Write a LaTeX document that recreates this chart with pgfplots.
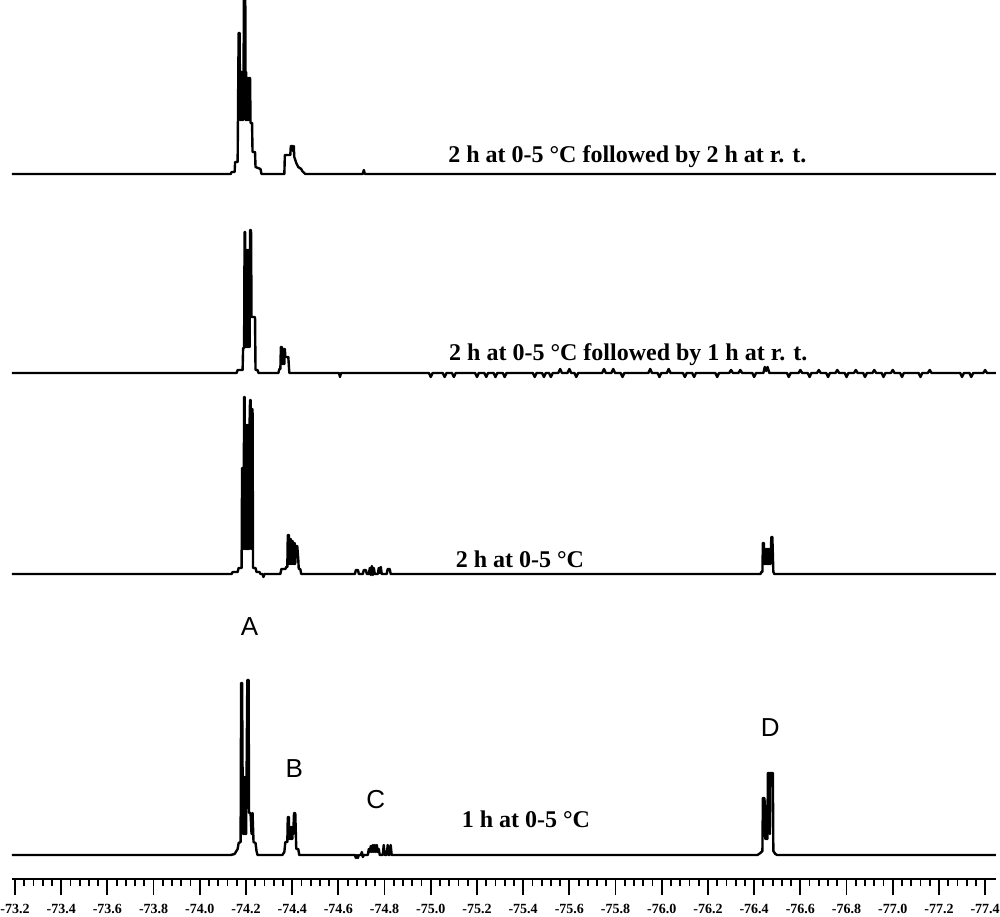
\documentclass[border=0pt]{standalone}
\usepackage{fontspec}
\setmainfont{Liberation Serif}
\newfontfamily\arialfont{Liberation Sans}
\usepackage{pgfplots}
\pgfplotsset{compat=1.18}
\usetikzlibrary{calc}

\begin{document}
\begin{tikzpicture}
\begin{axis}[
  name=ax,
  scale only axis,
  width=492pt, height=439.5pt,
  x dir=reverse,
  xmin=-77.447, xmax=-73.187,
  ymin=0, ymax=879,
  axis x line*=bottom,
  axis y line=none,
  axis line style={line width=1pt,-},
  xtick={-73.2,-73.4,-73.6,-73.8,-74.0,-74.2,-74.4,-74.6,-74.8,-75.0,-75.2,-75.4,-75.6,-75.8,-76.0,-76.2,-76.4,-76.6,-76.8,-77.0,-77.2,-77.4},
  minor x tick num=4,
  tick align=outside,
  major tick length=8pt,
  minor tick length=3.5pt,
  every tick/.style={black, line width=0.9pt},
  xticklabel style={font=\fontsize{7}{8}\selectfont\bfseries, inner sep=0pt, anchor=base},
  xticklabel shift=9.25pt,
  /pgf/number format/.cd, fixed, fixed zerofill, precision=1, assume math mode=true,
]
% 1 h at 0-5 C (bottom)
\addplot[black, line width=1.2pt, line join=round, sharp plot] coordinates {
(-73.187,24) (-74.1337,24) (-74.1509,25) (-74.1639,30) (-74.1682,36) (-74.1768,37)
(-74.1790,196) (-74.1832,196) (-74.1854,102) (-74.18755,45) (-74.1897,102) (-74.19185,45)
(-74.1940,102) (-74.19615,45) (-74.1983,102) (-74.20045,45) (-74.2026,102)
(-74.2058,199) (-74.2112,199) (-74.2133,66) (-74.2198,66) (-74.2241,45)
(-74.2284,66) (-74.2327,37) (-74.2413,36) (-74.2456,28) (-74.2499,24)
(-74.3575,24) (-74.3661,27) (-74.3704,37) (-74.3790,37) (-74.3811,62) (-74.3854,62)
(-74.3876,40) (-74.38975,52) (-74.3919,40) (-74.39405,52) (-74.3962,40) (-74.39835,52)
(-74.4005,40) (-74.40265,52) (-74.4048,45) (-74.4080,66)
(-74.4134,66) (-74.4177,30) (-74.4263,30) (-74.4306,24)
(-74.6716,24) (-74.6759,21) (-74.6802,24) (-74.6845,21) (-74.6888,24) (-74.6974,24)
(-74.7017,27) (-74.7060,22) (-74.7103,24) (-74.7275,24) (-74.7318,30) (-74.7361,27)
(-74.7404,33) (-74.7448,27) (-74.7491,34) (-74.7534,27) (-74.7577,34) (-74.7620,27)
(-74.7663,34) (-74.7706,27) (-74.7749,30) (-74.7792,24) (-74.7921,24) (-74.7964,34)
(-74.8007,24) (-74.8093,24) (-74.8136,34) (-74.8179,24) (-74.8222,24) (-74.8265,34)
(-74.8308,24)
(-76.4143,24) (-76.4272,26) (-76.4358,28) (-76.4379,81) (-76.4444,81) (-76.4466,72)
(-76.44875,40) (-76.4509,72) (-76.45305,40) (-76.4552,72) (-76.45735,40) (-76.4595,106)
(-76.4659,106) (-76.46805,45) (-76.4702,106) (-76.4810,106) (-76.4831,28) (-76.4917,25)
(-76.5003,24) (-77.447,24)
};
% 2 h at 0-5 C
\addplot[black, line width=1.2pt, line join=round, sharp plot] coordinates {
(-73.187,305) (-74.1380,305) (-74.1423,307) (-74.1639,307) (-74.1682,311) (-74.1811,311)
(-74.1832,411) (-74.18535,330) (-74.1875,411) (-74.18965,330) (-74.1919,482) (-74.1940,482)
(-74.19615,330) (-74.1983,454) (-74.20045,330) (-74.2026,454) (-74.20475,330) (-74.2069,454)
(-74.20905,330) (-74.2112,454) (-74.21335,330) (-74.2155,454) (-74.2176,479) (-74.2198,479)
(-74.22195,330) (-74.2241,470) (-74.22625,330) (-74.2284,470) (-74.2306,311)
(-74.2413,311) (-74.2456,307)
(-74.2585,307) (-74.2628,305) (-74.2714,305) (-74.2757,302) (-74.2800,305)
(-74.3489,305) (-74.3532,310) (-74.3704,310) (-74.3747,312) (-74.3790,312) (-74.3811,344)
(-74.3854,344) (-74.38755,315) (-74.3897,340) (-74.39185,315) (-74.3940,340) (-74.39615,315)
(-74.3983,338) (-74.40045,315) (-74.4026,338) (-74.40475,315) (-74.4069,336) (-74.40905,315)
(-74.4112,336) (-74.41335,315) (-74.4155,333) (-74.4220,333) (-74.4263,320) (-74.4285,310)
(-74.4349,310) (-74.4392,305)
(-74.6716,305) (-74.6759,309) (-74.6845,309) (-74.6888,305)
(-74.7060,305) (-74.7103,309) (-74.7189,309) (-74.7232,305)
(-74.7318,305) (-74.7361,311) (-74.7404,304) (-74.7448,313) (-74.7491,304) (-74.7534,311) (-74.7577,305)
(-74.7706,305) (-74.7749,311) (-74.7792,306) (-74.7835,312) (-74.7878,305)
(-74.8093,305) (-74.8136,310) (-74.8222,310) (-74.8265,305)
(-76.4272,305) (-76.4315,307) (-76.4358,307) (-76.4379,336) (-76.4422,336) (-76.44435,315)
(-76.4466,330) (-76.44875,315) (-76.4509,330) (-76.45305,315) (-76.4552,330) (-76.45735,315)
(-76.4595,330) (-76.46165,315) (-76.4638,330) (-76.46595,315) (-76.4681,330) (-76.47025,315)
(-76.4745,342) (-76.4788,342) (-76.4831,307) (-76.4874,305) (-77.447,305)
};
% 2 h at 0-5 C followed by 1 h at r.t.
\addplot[black, line width=1.2pt, line join=round, sharp plot] coordinates {
(-73.187,506) (-74.1595,506) (-74.1639,509) (-74.1854,509) (-74.1876,531) (-74.1919,531)
(-74.1940,647) (-74.1962,647) (-74.1983,532) (-74.20045,629) (-74.2026,532) (-74.20475,629)
(-74.2069,532) (-74.20905,629) (-74.2112,532) (-74.21335,629) (-74.2155,532) (-74.21765,649)
(-74.2219,649) (-74.2241,562) (-74.2392,562) (-74.2413,509) (-74.2499,509) (-74.2542,506)
(-74.3403,506) (-74.3446,510) (-74.3489,510) (-74.3511,532) (-74.3554,532) (-74.35755,515)
(-74.3597,530) (-74.36185,515) (-74.3640,530) (-74.36615,515) (-74.3683,530) (-74.3704,522)
(-74.3833,522) (-74.3876,506)
(-74.6028,506) (-74.6071,502) (-74.6114,506)
(-74.992,506) (-75.000,502) (-75.008,506)
(-75.052,506) (-75.060,502) (-75.068,506)
(-75.092,506) (-75.100,502) (-75.108,506)
(-75.192,506) (-75.200,502) (-75.208,506)
(-75.232,506) (-75.240,502) (-75.248,506)
(-75.272,506) (-75.280,502) (-75.288,506)
(-75.312,506) (-75.320,502) (-75.328,506)
(-75.442,506) (-75.450,502) (-75.458,506)
(-75.482,506) (-75.490,502) (-75.498,506)
(-75.512,506) (-75.520,502) (-75.528,506)
(-75.552,506) (-75.560,510) (-75.568,506)
(-75.592,506) (-75.600,510) (-75.608,506)
(-75.622,506) (-75.630,502) (-75.638,506)
(-75.742,506) (-75.750,510) (-75.758,506)
(-75.782,506) (-75.790,510) (-75.798,506)
(-75.822,506) (-75.830,502) (-75.838,506)
(-75.942,506) (-75.950,510) (-75.958,506)
(-75.982,506) (-75.990,502) (-75.998,506)
(-76.022,506) (-76.030,510) (-76.038,506)
(-76.092,506) (-76.100,502) (-76.108,506)
(-76.132,506) (-76.140,502) (-76.148,506)
(-76.232,506) (-76.240,502) (-76.248,506)
(-76.292,506) (-76.300,509) (-76.308,506)
(-76.332,506) (-76.340,509) (-76.348,506)
(-76.392,506) (-76.400,502) (-76.408,506)
(-76.440,506) (-76.446,512) (-76.452,508) (-76.458,512) (-76.466,506)
(-76.542,506) (-76.550,502) (-76.558,506)
(-76.592,506) (-76.600,509) (-76.608,506)
(-76.632,506) (-76.640,502) (-76.648,506)
(-76.672,506) (-76.680,509) (-76.688,506)
(-76.712,506) (-76.720,502) (-76.728,506)
(-76.752,506) (-76.760,509) (-76.768,506)
(-76.792,506) (-76.800,502) (-76.808,506)
(-76.832,506) (-76.840,509) (-76.848,506)
(-76.872,506) (-76.880,502) (-76.888,506)
(-76.912,506) (-76.920,509) (-76.928,506)
(-76.952,506) (-76.960,502) (-76.968,506)
(-76.992,506) (-77.000,509) (-77.008,506)
(-77.032,506) (-77.040,502) (-77.048,506)
(-77.112,506) (-77.120,502) (-77.128,506)
(-77.152,506) (-77.160,509) (-77.168,506)
(-77.292,506) (-77.300,502) (-77.308,506)
(-77.332,506) (-77.340,502) (-77.348,506)
(-77.392,506) (-77.400,509) (-77.408,506)
(-77.447,506)
};
% 2 h at 0-5 C followed by 2 h at r.t. (top)
\addplot[black, line width=1.2pt, line join=round, sharp plot] coordinates {
(-73.187,705) (-74.1337,705) (-74.1380,707) (-74.1509,707) (-74.1530,717) (-74.1639,717)
(-74.1682,846) (-74.1725,846) (-74.17465,759) (-74.1768,807) (-74.17895,759) (-74.1811,807)
(-74.18325,759) (-74.1854,807) (-74.18755,759) (-74.1897,807) (-74.1919,950) (-74.1962,950)
(-74.19835,759) (-74.2005,807) (-74.20265,759) (-74.2048,801) (-74.20695,759) (-74.2091,801)
(-74.21125,759) (-74.2133,801) (-74.21545,759) (-74.2176,801) (-74.2198,756)
(-74.2263,756) (-74.2284,727) (-74.2392,727)
(-74.2413,712) (-74.2628,710) (-74.2671,705)
(-74.3661,705) (-74.3683,724) (-74.3919,724) (-74.3941,733) (-74.4005,733) (-74.4027,728)
(-74.4070,733) (-74.4091,722) (-74.4177,716) (-74.4263,712) (-74.4392,710) (-74.4435,708)
(-74.4522,706) (-74.4565,705)
(-74.7060,705) (-74.7103,709) (-74.7146,705) (-77.447,705)
};
\node[font=\fontsize{12}{13}\selectfont\bfseries] at (axis cs:-75.851,722) {2 h at 0-5 °C followed by 2 h at r. t.};
\node[font=\fontsize{12}{13}\selectfont\bfseries] at (axis cs:-75.855,524) {2 h at 0-5 °C followed by 1 h at r. t.};
\node[font=\fontsize{12}{13}\selectfont\bfseries] at (axis cs:-75.386,320) {2 h at 0-5 °C};
\node[font=\fontsize{12}{13}\selectfont\bfseries] at (axis cs:-75.412,60) {1 h at 0-5 °C};
\node[font=\arialfont\fontsize{13}{14}\selectfont] at (axis cs:-74.2155,252) {A};
\node[font=\arialfont\fontsize{13}{14}\selectfont] at (axis cs:-74.409,110) {B};
\node[font=\arialfont\fontsize{13}{14}\selectfont] at (axis cs:-74.762,79) {C};
\node[font=\arialfont\fontsize{13}{14}\selectfont] at (axis cs:-76.470,151) {D};
\end{axis}
\pgfresetboundingbox
\path[use as bounding box] ($(ax.south west)+(-6pt,-18.5pt)$) rectangle ($(ax.north east)+(2pt,0pt)$);
\end{tikzpicture}
\end{document}
